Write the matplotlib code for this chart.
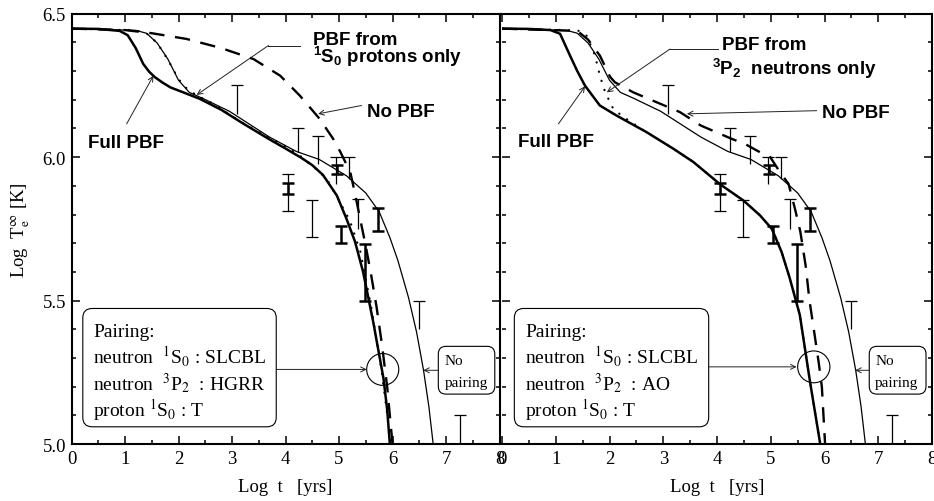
"""Neutron star cooling curves: two panels comparing PBF scenarios against observed temperatures."""

import matplotlib

matplotlib.use("Agg")
import matplotlib.pyplot as plt
from matplotlib.patches import Ellipse, FancyBboxPatch
from matplotlib.ticker import FormatStrFormatter, MultipleLocator

plt.rcParams["font.family"] = ["Liberation Serif", "DejaVu Serif"]
plt.rcParams["mathtext.fontset"] = "custom"
plt.rcParams["mathtext.rm"] = "Liberation Sans:bold"
plt.rcParams["mathtext.it"] = "Liberation Sans:bold"
plt.rcParams["mathtext.bf"] = "Liberation Sans:bold"

# --- cooling curves (log t [yrs], log Te [K]) -------------------------------------
no_pairing_x = [0.0, 1.2, 1.4, 1.6, 1.8, 2.0, 2.2, 2.45, 2.95, 3.7, 4.2, 4.63, 5.14,
                5.5, 5.75, 5.95, 6.1, 6.3, 6.45, 6.58, 6.68, 6.76]
no_pairing_y = [6.448, 6.442, 6.432, 6.398, 6.342, 6.268, 6.226, 6.205, 6.16, 6.07, 6.02,
                5.992, 5.935, 5.875, 5.81, 5.72, 5.64, 5.51, 5.39, 5.257, 5.13, 5.0]

left_full_x = [0.0, 0.5, 0.9, 1.05, 1.2, 1.34, 1.45, 1.55, 1.7, 1.85, 2.1, 2.4, 2.8, 3.2,
               3.7, 4.0, 4.3, 4.5, 4.7, 4.96, 5.14, 5.3, 5.45, 5.64, 5.83, 5.9, 5.95]
left_full_y = [6.448, 6.447, 6.44, 6.425, 6.38, 6.325, 6.298, 6.28, 6.26, 6.243, 6.225,
               6.203, 6.165, 6.118, 6.062, 6.03, 5.997, 5.972, 5.938, 5.866, 5.785, 5.705,
               5.6, 5.425, 5.23, 5.12, 5.0]

left_dotted_x = [0.0, 1.2, 1.4, 1.6, 1.8, 2.0, 2.15, 2.34, 2.65, 3.15, 3.65, 4.0, 4.33,
                 4.64, 4.8, 4.96, 5.2, 5.4, 5.6, 5.8, 5.97]
left_dotted_y = [6.448, 6.442, 6.432, 6.398, 6.34, 6.272, 6.24, 6.215, 6.186, 6.125, 6.072,
                 6.038, 5.997, 5.948, 5.915, 5.862, 5.78, 5.67, 5.48, 5.25, 5.0]

left_dashed_x = [0.0, 1.0, 1.5, 2.15, 2.8, 3.4, 3.9, 4.27, 4.64, 4.89, 5.02, 5.21, 5.3,
                 5.4, 5.5, 5.6, 5.7, 5.8, 5.9, 6.0]
left_dashed_y = [6.448, 6.443, 6.432, 6.412, 6.38, 6.342, 6.284, 6.214, 6.133, 6.064, 6.02,
                 5.948, 5.872, 5.78, 5.69, 5.59, 5.48, 5.35, 5.2, 5.0]

right_full_x = [0.0, 0.5, 0.9, 1.08, 1.265, 1.4, 1.544, 1.7, 1.82, 2.13, 2.69, 3.19, 3.56,
                4.06, 4.49, 4.8, 5.02, 5.2, 5.35, 5.54, 5.73, 5.92]
right_full_y = [6.448, 6.447, 6.443, 6.43, 6.354, 6.30, 6.249, 6.21, 6.18, 6.145, 6.087,
                6.029, 5.983, 5.905, 5.849, 5.797, 5.75, 5.67, 5.58, 5.45, 5.217, 5.0]

right_dotted_x = [0.0, 1.2, 1.45, 1.575, 1.73, 1.82, 1.92, 2.07, 2.26, 2.5, 2.69, 3.19,
                  3.56, 4.06, 4.49, 4.8, 5.02, 5.2, 5.35, 5.54, 5.73, 5.92]
right_dotted_y = [6.448, 6.443, 6.44, 6.423, 6.354, 6.284, 6.226, 6.168, 6.14, 6.11, 6.087,
                  6.029, 5.983, 5.905, 5.849, 5.797, 5.75, 5.67, 5.58, 5.45, 5.217, 5.0]

right_dashed_x = [0.0, 1.4, 1.6, 1.82, 2.01, 2.1, 2.44, 3.31, 3.7, 4.27, 4.52, 4.8, 4.99,
                  5.17, 5.33, 5.45, 5.55, 5.65, 5.72, 5.8, 5.89, 5.95, 6.01]
right_dashed_y = [6.448, 6.44, 6.41, 6.354, 6.28, 6.261, 6.226, 6.157, 6.11, 6.064, 6.046,
                  6.017, 6.0, 5.948, 5.907, 5.82, 5.74, 5.62, 5.50, 5.40, 5.286, 5.2, 5.0]

# --- observed neutron stars -----------------------------------------------------
# upper limits: cap on top only
limit_x = [3.09, 4.24, 4.61, 4.94, 5.19, 5.36, 6.50, 7.26]
limit_lo = [6.151, 6.017, 5.977, 5.907, 5.924, 5.75, 5.402, 5.0]
limit_hi = [6.252, 6.102, 6.073, 6.0, 6.0, 5.855, 5.50, 5.10]
# measurements with wide ranges
meas_x = [4.05, 4.49]
meas_lo = [5.814, 5.721]
meas_hi = [5.942, 5.852]
# tighter measurements
best_x = [4.05, 4.97, 5.04, 5.49, 5.73]
best_lo = [5.872, 5.942, 5.70, 5.50, 5.742]
best_hi = [5.909, 5.971, 5.76, 5.698, 5.822]

pairing_left = ["Pairing:", r"neutron  $^{1}$S$_{0}$ : SLCBL",
                r"neutron  $^{3}$P$_{2}$  : HGRR", r"proton $^{1}$S$_{0}$ : T"]
pairing_right = ["Pairing:", r"neutron  $^{1}$S$_{0}$ : SLCBL",
                 r"neutron  $^{3}$P$_{2}$  : AO", r"proton $^{1}$S$_{0}$ : T"]

BOLD = dict(family="Liberation Sans", weight="bold", fontsize=13.5)
ARROW = dict(arrowstyle="->", lw=0.7, color="#222222", shrinkA=0, shrinkB=0,
             mutation_scale=9)


def setup_axes(ax, show_y):
    ax.set_xlim(0, 8)
    ax.set_ylim(5.0, 6.5)
    ax.xaxis.set_major_locator(MultipleLocator(1))
    ax.xaxis.set_minor_locator(MultipleLocator(0.5))
    ax.yaxis.set_major_locator(MultipleLocator(0.5))
    ax.yaxis.set_minor_locator(MultipleLocator(0.1))
    ax.yaxis.set_major_formatter(FormatStrFormatter("%.1f"))
    ax.tick_params(which="both", direction="in", top=True, right=True, width=1.1,
                   labelsize=13.5, labelleft=show_y)
    ax.tick_params(which="major", length=5.5, pad=4)
    ax.tick_params(which="minor", length=3)
    for spine in ax.spines.values():
        spine.set_linewidth(1.5)
    ax.set_xlabel("Log  t   [yrs]", fontsize=13.5)
    ax.xaxis.set_label_coords(0.5, -0.078)


def draw_data(ax):
    ax.vlines(limit_x, limit_lo, limit_hi, color="black", lw=0.9)
    ax.plot(limit_x, limit_hi, ls="none", marker="_", ms=8, mew=0.9, color="black")
    ax.vlines(meas_x, meas_lo, meas_hi, color="black", lw=0.9)
    ax.plot(meas_x + meas_x, meas_lo + meas_hi, ls="none", marker="_", ms=8, mew=0.9,
            color="black")
    ax.vlines(best_x, best_lo, best_hi, color="black", lw=1.8)
    ax.plot(best_x + best_x, best_lo + best_hi, ls="none", marker="_", ms=8, mew=1.8,
            color="black")


def draw_curves(ax, full, dotted, dashed):
    ax.plot(no_pairing_x, no_pairing_y, color="black", lw=0.9)
    ax.plot(*dashed, color="black", lw=1.7, ls=(0, (6.5, 4.5)))
    ax.plot(*dotted, color="black", lw=1.6, ls=(0, (0.1, 4.2)), dash_capstyle="round")
    ax.plot(*full, color="black", lw=1.8)


def draw_pairing(ax, lines, box_x0, text_x, circle, arrow_end, np_box_x0, np_text_x,
                 np_arrow_end):
    ax.add_patch(FancyBboxPatch((box_x0, 0.04), 0.452, 0.275, transform=ax.transAxes,
                                boxstyle="round,pad=0,rounding_size=0.022",
                                fc="white", ec="black", lw=0.8, zorder=3))
    for text, y in zip(lines, [5.377, 5.284, 5.191, 5.098]):
        ax.text(text_x, y, text, fontsize=14, va="baseline", ha="left",
                math_fontfamily="stix", zorder=4)
    ax.annotate("", xy=(arrow_end, circle[1]), xytext=(box_x0 * 8 + 0.452 * 8, circle[1]),
                arrowprops=ARROW)
    ax.add_patch(Ellipse(circle, width=0.6, height=0.111, fill=False, ec="black", lw=0.8))

    ax.add_patch(FancyBboxPatch((np_box_x0, 0.116), 0.132, 0.111, transform=ax.transAxes,
                                boxstyle="round,pad=0,rounding_size=0.018",
                                fc="white", ec="black", lw=0.8, zorder=3))
    ax.text(np_text_x, 5.28, "No", fontsize=11, va="baseline", zorder=4)
    ax.text(np_text_x, 5.203, "pairing", fontsize=11, va="baseline", zorder=4)
    ax.annotate("", xy=(np_arrow_end, 5.257), xytext=(np_box_x0 * 8, 5.257),
                arrowprops=ARROW)


fig = plt.figure(figsize=(9.34, 5.02), dpi=100)
ax_l = fig.add_axes([0.0766, 0.1135, 0.4582, 0.8572])
ax_r = fig.add_axes([0.5375, 0.1135, 0.4604, 0.8572])

# left panel: HGRR 3P2 gap
setup_axes(ax_l, True)
draw_curves(ax_l, (left_full_x, left_full_y), (left_dotted_x, left_dotted_y),
            (left_dashed_x, left_dashed_y))
draw_data(ax_l)
ax_l.text(4.51, 6.394, "PBF from", va="baseline", **BOLD)
ax_l.text(4.52, 6.331, r"$^{1}$S$_{0}$ protons only", va="baseline", **BOLD)
ax_l.plot([4.27, 3.68], [6.389, 6.389], color="#222222", lw=0.7)
ax_l.annotate("", xy=(2.34, 6.217), xytext=(3.68, 6.389), arrowprops=ARROW)
ax_l.text(5.52, 6.145, "No PBF", va="baseline", **BOLD)
ax_l.annotate("", xy=(4.61, 6.151), xytext=(5.42, 6.18), arrowprops=ARROW)
ax_l.text(0.31, 6.035, "Full PBF", va="baseline", **BOLD)
ax_l.annotate("", xy=(1.53, 6.284), xytext=(1.03, 6.116), arrowprops=ARROW)
draw_pairing(ax_l, pairing_left, 0.0263, 0.41, (5.817, 5.26), 5.518, 0.857, 6.98, 6.575)

# right panel: AO 3P2 gap; its left edge sits on the left panel's frame
setup_axes(ax_r, False)
ax_r.spines["left"].set_visible(False)
draw_curves(ax_r, (right_full_x, right_full_y), (right_dotted_x, right_dotted_y),
            (right_dashed_x, right_dashed_y))
draw_data(ax_r)
ax_r.text(4.09, 6.377, "PBF from", va="baseline", **BOLD)
ax_r.text(3.90, 6.29, r"$^{3}$P$_{2}$  neutrons only", va="baseline", **BOLD)
ax_r.plot([4.02, 3.126], [6.377, 6.377], color="#222222", lw=0.7)
ax_r.annotate("", xy=(1.95, 6.226), xytext=(3.126, 6.377), arrowprops=ARROW)
ax_r.text(5.95, 6.14, "No PBF", va="baseline", **BOLD)
ax_r.annotate("", xy=(3.44, 6.151), xytext=(5.855, 6.162), arrowprops=ARROW)
ax_r.text(0.30, 6.04, "Full PBF", va="baseline", **BOLD)
ax_r.annotate("", xy=(1.544, 6.247), xytext=(1.05, 6.116), arrowprops=ARROW)
draw_pairing(ax_r, pairing_right, 0.0286, 0.43, (5.80, 5.269), 5.48, 0.854, 6.94, 6.57)

fig.text(0.0225, 0.542, r"Log  T$_{\rm e}^{\infty}$ [K]", rotation=90, ha="center",
         va="center", fontsize=13.5, math_fontfamily="stix")

fig.savefig("out.png", dpi=100)
